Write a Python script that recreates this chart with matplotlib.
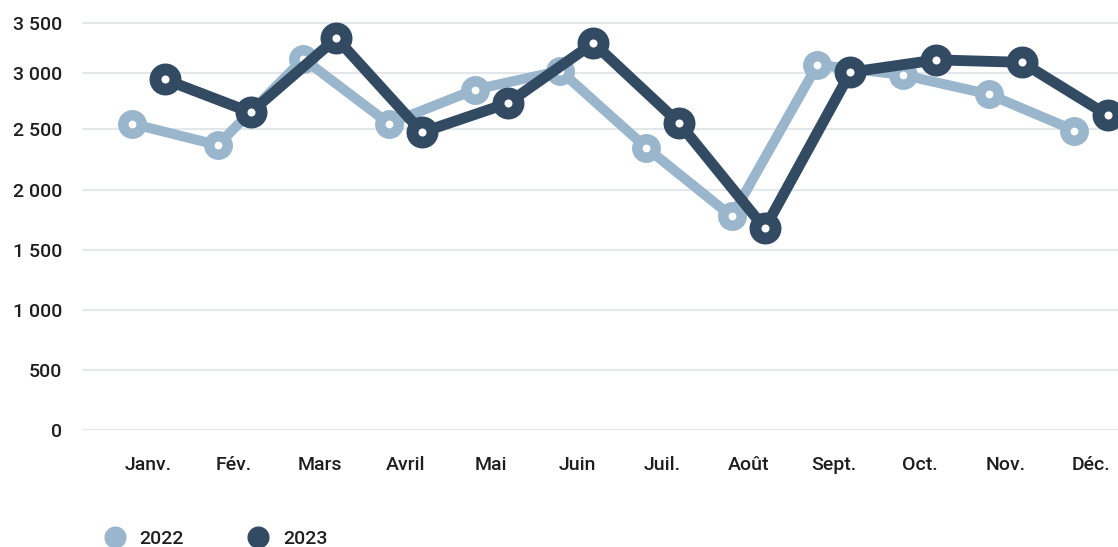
import numpy as np
import matplotlib
matplotlib.use("Agg")
import matplotlib.pyplot as plt
from matplotlib.lines import Line2D
from matplotlib.ticker import FuncFormatter

# data
months = ["Janv.", "Fév.", "Mars", "Avril", "Mai", "Juin",
          "Juil.", "Août", "Sept.", "Oct.", "Nov.", "Déc."]
values_2022 = [2550, 2370, 3140, 2550, 2850, 3020, 2350, 1780, 3080, 2980, 2810, 2490]
values_2023 = [2940, 2650, 3350, 2475, 2730, 3300, 2555, 1680, 3005, 3130, 3105, 2625]
y_ticks = [0, 500, 1000, 1500, 2000, 2500, 3000, 3500]

color_2022 = "#99b6cd"
color_2023 = "#334a63"
text_color = "#1e1e1e"
grid_color = "#e1e5e7"

plt.rcParams["font.family"] = ["Roboto", "DejaVu Sans"]
plt.rcParams["font.weight"] = "medium"

# the reference axis is slightly compressed above 2 000: piecewise scale
scale_vals = [0, 500, 1000, 1500, 2000, 2500, 3000, 3500, 4000]
scale_px = [0, 60, 120, 180, 240, 300.7, 357.3, 406.7, 456.1]


def fwd(v):
    return np.interp(v, scale_vals, scale_px)


def inv(p):
    return np.interp(p, scale_px, scale_vals)


fig = plt.figure(figsize=(11.18, 5.47), dpi=100)
ax = fig.add_axes([82 / 1118, (547 - 430) / 547, 1 - 82 / 1118, 430 / 547])
ax.set_yscale("function", functions=(fwd, inv))

x = np.arange(len(months))
offset = 0.193

ax.plot(x - offset, values_2022, color=color_2022, lw=7.2, marker="o",
        ms=13.3, mew=7.5, mfc="white", mec=color_2022, clip_on=False, zorder=3)
ax.plot(x + offset, values_2023, color=color_2023, lw=7.8, marker="o",
        ms=14.4, mew=8.6, mfc="white", mec=color_2023, clip_on=False, zorder=4)

ax.set_xlim(-0.776, 11.315)
ax.set_ylim(0, inv(430))
ax.set_yticks(y_ticks)
ax.yaxis.set_major_formatter(FuncFormatter(lambda v, p: f"{v:,.0f}".replace(",", " ")))
ax.set_xticks(x)
ax.set_xticklabels(months)

ax.grid(axis="y", color=grid_color, lw=1.3)
ax.set_axisbelow(True)
for s in ax.spines.values():
    s.set_visible(False)
ax.tick_params(axis="y", length=0, pad=14.4, labelsize=14, labelcolor=text_color)
ax.tick_params(axis="x", length=0, pad=19, labelsize=14, labelcolor=text_color)

handles = [
    Line2D([], [], ls="", marker="o", ms=14.9, color=color_2022, label="2022"),
    Line2D([], [], ls="", marker="o", ms=14.9, color=color_2023, label="2023"),
]
fig.legend(handles=handles, loc="center left", bbox_to_anchor=(105 / 1118, 1 - 539 / 547),
           ncol=2, frameon=False, fontsize=14, handlelength=1.0, handletextpad=0.78,
           columnspacing=3.3, borderpad=0, borderaxespad=0, labelcolor=text_color)

fig.savefig("out.png", dpi=100)
